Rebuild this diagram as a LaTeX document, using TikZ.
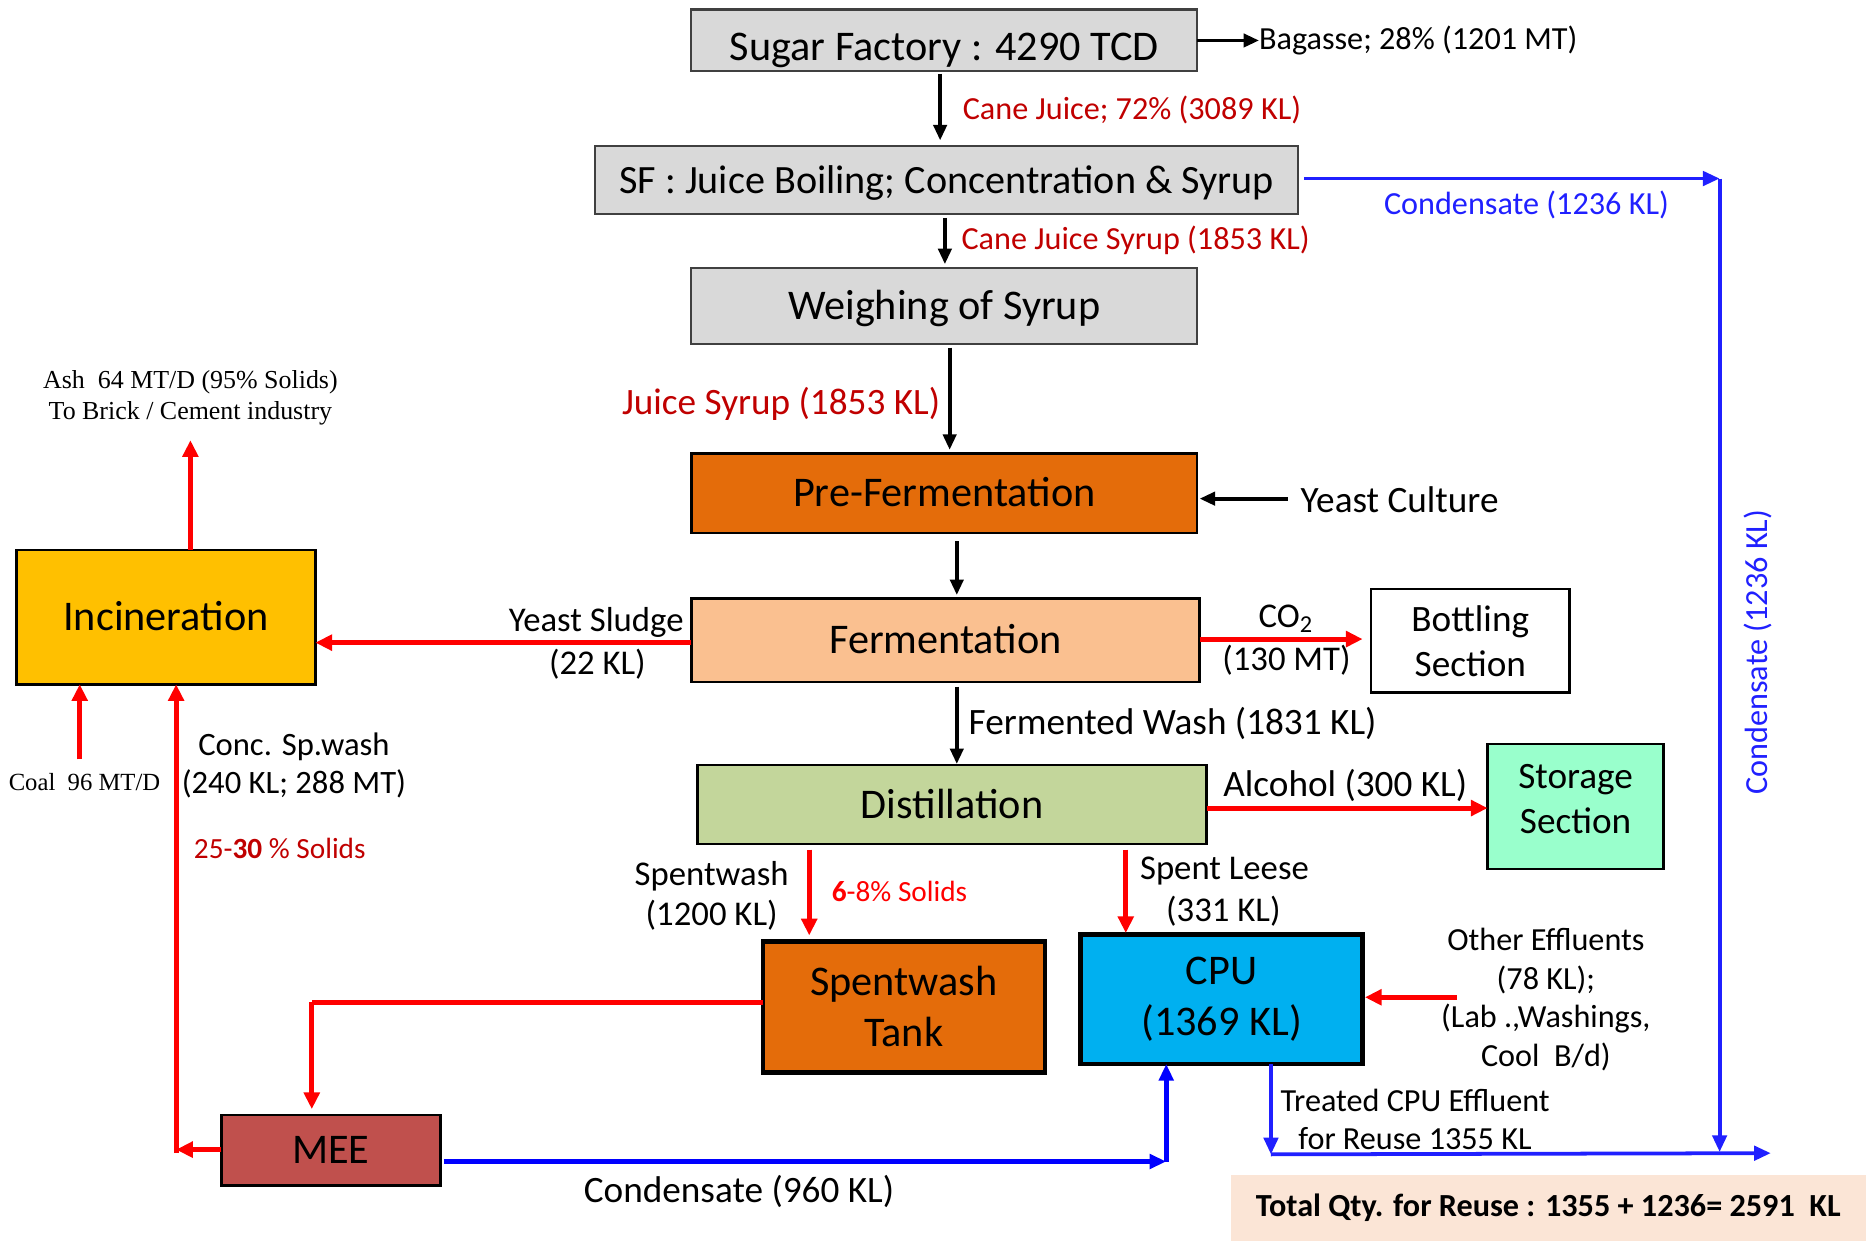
\documentclass[tikz,border=0pt]{standalone}
\usepackage{fontspec}
\setmainfont{Carlito}
\newfontfamily\timesf{Liberation Serif}
\usetikzlibrary{arrows.meta,calc}
\definecolor{gfill}{HTML}{D9D9D9}
\definecolor{gline}{HTML}{404040}
\definecolor{orng}{HTML}{E46C0A}
\definecolor{peach}{HTML}{FAC090}
\definecolor{olive}{HTML}{C3D69B}
\definecolor{gold}{HTML}{FFC000}
\definecolor{mint}{HTML}{99FFCC}
\definecolor{cyanb}{HTML}{00B0F0}
\definecolor{brick}{HTML}{C0504D}
\definecolor{totfill}{HTML}{FBE5D6}
\definecolor{dred}{HTML}{C00000}
\definecolor{bred}{HTML}{FF0000}
\definecolor{cblue}{HTML}{2020FF}
\newcommand\szA{\fontsize{10.1}{12.2}\selectfont}
\newcommand\szS{\fontsize{9.6}{12}\selectfont}
\newcommand\szB{\fontsize{8.9}{10.8}\selectfont}
\newcommand\szL{\fontsize{8.9}{10}\selectfont}
\newcommand\szC{\fontsize{8.3}{9.6}\selectfont}
\newcommand\szK{\fontsize{7.8}{9.1}\selectfont}
\newcommand\szD{\fontsize{7.7}{9.2}\selectfont}
\newcommand\szR{\fontsize{7.0}{8.4}\selectfont}
\newcommand\szT{\fontsize{6.2}{7.4}\selectfont}
\newcommand\szU{\fontsize{5.9}{7.0}\selectfont}
\begin{document}
\begin{tikzpicture}[x=0.1mm,y=-0.1mm,
  base/.style={inner sep=0pt,outer sep=0pt,align=center,font=\szA},
  capc/.style={text height=6.5pt,text depth=0pt},
  gbox/.style={base,draw=gline,line width=0.5pt,fill=gfill},
  cbox/.style={base,draw=black,line width=0.6pt},
  tbox/.style={base,draw=black,line width=1.1pt},
  lbl/.style={inner sep=0pt,outer sep=0pt,align=center,font=\szC},
  blk/.style={line width=0.9pt,draw=black,-{Triangle[length=1.3mm,width=1.1mm]}},
  rarr/.style={line width=1.2pt,draw=bred,-{Triangle[length=1.4mm,width=1.3mm]}},
  rline/.style={line width=1.2pt,draw=bred},
  barr/.style={line width=0.9pt,draw=cblue,-{Triangle[length=1.4mm,width=1.2mm]}},
]
\useasboundingbox (0,0) rectangle (1568,1043);

% boxes
\node[gbox,text height=3.29mm,text depth=0pt,minimum width=42.5mm,minimum height=5.2mm] (sf) at (793.5,34) {Sugar Factory : 4290 TCD};
\node[gbox,font=\szS,text height=6.2pt,text depth=0pt,minimum width=59.1mm,minimum height=5.7mm] (sfj) at (795.5,151.5) {SF : Juice Boiling; Concentration \& Syrup};
\node[gbox,capc,minimum width=42.5mm,minimum height=6.4mm] (wos) at (793.5,257) {Weighing of Syrup};
\node[cbox,capc,fill=orng,minimum width=42.5mm,minimum height=6.7mm] (pref) at (793.5,414.5) {Pre-Fermentation};
\node[cbox,capc,fill=peach,minimum width=42.7mm,minimum height=7.0mm] (ferm) at (794.5,538) {Fermentation};
\node[cbox,fill=white,font=\szB,minimum width=16.7mm,minimum height=8.7mm] (bott) at (1235.5,538.5) {Bottling\\Section};
\node[cbox,capc,fill=olive,minimum width=42.8mm,minimum height=6.6mm] (dist) at (800,676) {Distillation};
\node[cbox,fill=mint,font=\szB,minimum width=14.8mm,minimum height=10.5mm,text depth=1.2mm] (stor) at (1324,677.5) {Storage\\Section};
\node[cbox,capc,fill=gold,minimum width=25.1mm,minimum height=11.3mm] (inc) at (139.5,518.5) {Incineration};
\node[tbox,fill=orng,minimum width=23.7mm,minimum height=11mm] (swt) at (759.5,846) {Spentwash\\Tank};
\node[tbox,fill=cyanb,minimum width=23.7mm,minimum height=10.9mm] (cpu) at (1026.5,839.5) {CPU\\(1369 KL)};
\node[cbox,capc,fill=brick,minimum width=18.4mm,minimum height=5.9mm] (mee) at (278,966.5) {MEE};
\node[base,fill=totfill,font=\szD\bfseries,minimum width=53.4mm,minimum height=5.6mm] (total) at (1301,1015) {Total Qty. for Reuse : 1355 + 1236= 2591\ \ KL};

% labels
\node[lbl,font=\szD,anchor=west] (bag) at (1058,34) {Bagasse; 28\% (1201 MT)};
\node[lbl,font=\szD,text=dred,anchor=west] (l1) at (809,92) {Cane Juice; 72\% (3089 KL)};
\node[lbl,font=\szD,text=cblue,anchor=west] (l2) at (1163,172) {Condensate (1236 KL)};
\node[lbl,font=\szD,text=dred,anchor=west] (l3) at (808,202) {Cane Juice Syrup (1853 KL)};
\node[lbl,font=\szL,text=dred,anchor=east] (l4) at (790,339) {Juice Syrup (1853 KL)};
\node[lbl,font=\szL,anchor=west] (yc) at (1093,420) {Yeast Culture};
\node[lbl,font=\szC] (l5) at (501,523) {Yeast Sludge};
\node[lbl,font=\szC] (l6) at (502,558) {(22 KL)};
\node[lbl,font=\szC] (l7) at (1081,520) {CO\textsubscript{2}};
\node[lbl,font=\szC] (l8) at (1081,555) {(130 MT)};
\node[lbl,font=\szL,anchor=west] (l9) at (814,608) {Fermented Wash (1831 KL)};
\node[lbl,font=\szL,anchor=west] (l10) at (1028,660) {Alcohol (300 KL)};
\node[lbl,font=\szC] (l11) at (598,753) {Spentwash\\(1200 KL)};
\node[lbl,font=\szR,text=bred,anchor=west] (l12) at (699,749) {\textbf{6}-8\% Solids};
\node[lbl,font=\szC,anchor=west] (l13) at (958,732) {Spent Leese};
\node[lbl,font=\szC] (l14) at (1028,766) {(331 KL)};
\node[lbl,font=\szD] (oe) at (1299,840) {Other Effluents\\(78 KL);\\(Lab .,Washings,\\Cool\ \ B/d)};
\node[lbl,font=\szD,anchor=west] (l15) at (1076,925) {Treated CPU Effluent};
\node[lbl,font=\szD,anchor=west] (l16) at (1091,957) {for Reuse 1355 KL};
\node[lbl,font=\szL] (l17) at (621,1001) {Condensate (960 KL)};
\node[lbl,font=\szK] (l18) at (247,643) {Conc. Sp.wash\\(240 KL; 288 MT)};
\node[lbl,font=\szR,text=dred,anchor=west] (l19) at (163,713) {25-\textbf{30} \% Solids};
\node[lbl,font=\szU\timesf] (coal) at (71,657) {Coal\ \ 96 MT/D};
\node[lbl,font=\szT\timesf] (ash) at (160,334) {Ash\ \ 64 MT/D (95\% Solids)\\To Brick / Cement industry};
\node[lbl,font=\szD,text=cblue,rotate=90] (l20) at (1477,548) {Condensate (1236 KL)};

% column / row coordinates
\coordinate (x1) at (790,0);
\coordinate (x2) at (794,0);
\coordinate (x3) at (798,0);
\coordinate (x4) at (804,0);
\coordinate (x5) at (680,0);
\coordinate (x6) at (946,0);
\coordinate (x7) at (262,0);
\coordinate (x8) at (148,0);
\coordinate (x9) at (67,0);
\coordinate (x10) at (160,0);
\coordinate (x11) at (1445,0);
\coordinate (x12) at (1068,0);
\coordinate (x13) at (980,0);
\coordinate (ycs) at (1082,419);
\coordinate (oes) at (1224,838);
\coordinate (ys) at (0,540);
\coordinate (co) at (0,537);
\coordinate (al) at (0,679);
\coordinate (sw) at (0,842);
\coordinate (m1) at (0,966);
\coordinate (m2) at (0,976);
\coordinate (c1) at (0,150);
\coordinate (bl) at (0,968);
\coordinate (bl2) at (0,970);
\coordinate (endp) at (1488,969);
\coordinate (coalt) at (67,638);

% black arrows
\draw[blk] (sf.east) -- (bag.west);
\draw[blk,shorten <=0.2mm,shorten >=0.5mm] (sf.south -| x1) -- (sfj.north -| x1);
\draw[blk,shorten <=0.3mm,shorten >=0.3mm] (sfj.south -| x2) -- (wos.north -| x2);
\draw[blk,shorten <=0.3mm,shorten >=0.3mm] (wos.south -| x3) -- (pref.north -| x3);
\draw[blk,shorten >=0.2mm] (ycs) -- (pref.east |- ycs);
\draw[blk,shorten <=0.7mm,shorten >=0.3mm] (pref.south -| x4) -- (ferm.north -| x4);
\draw[blk,shorten <=0.4mm,shorten >=0.1mm] (ferm.south -| x4) -- (dist.north -| x4);

% red arrows
\draw[rarr] (ferm.west |- ys) -- (inc.east |- ys);
\draw[rarr,shorten >=0.7mm] (ferm.east |- co) -- (bott.west |- co);
\draw[rarr] (dist.east |- al) -- (stor.west |- al);
\draw[rarr,shorten <=0.5mm,shorten >=0.5mm] (dist.south -| x5) -- (swt.north -| x5);
\draw[rarr,shorten <=0.5mm,shorten >=0.1mm] (dist.south -| x6) -- (cpu.north -| x6);
\draw[rarr,shorten >=0.2mm] (oes) -- (cpu.east |- oes);
\draw[rline] (swt.west |- sw) -- (x7 |- sw);
\draw[rarr,shorten >=0.5mm] (x7 |- sw) -- (mee.north -| x7);
\draw[rarr] (mee.west |- m1) -- (x8 |- m1);
\draw[rarr] ($(x8 |- m1)+(0,3)$) -- (inc.south -| x8);
\draw[rarr] (coalt) -- (inc.south -| x9);
\draw[rarr,shorten >=1.3mm] (inc.north -| x10) -- (ash.south -| x10);

% blue arrows
\draw[barr,shorten <=0.5mm] (sfj.east |- c1) -- (x11 |- c1);
\draw[barr] (x11 |- c1) -- (x11 |- bl);
\draw[barr] (cpu.south -| x12) -- (x12 |- bl2);
\draw[barr] (x12 |- bl2) -- (endp);
\draw[barr,line width=1.2pt,draw=blue,shorten <=0.3mm] (mee.east |- m2) -- (x13 |- m2);
\draw[barr,line width=1.2pt,draw=blue] (x13 |- m2) -- (cpu.south -| x13);
\end{tikzpicture}
\end{document}
